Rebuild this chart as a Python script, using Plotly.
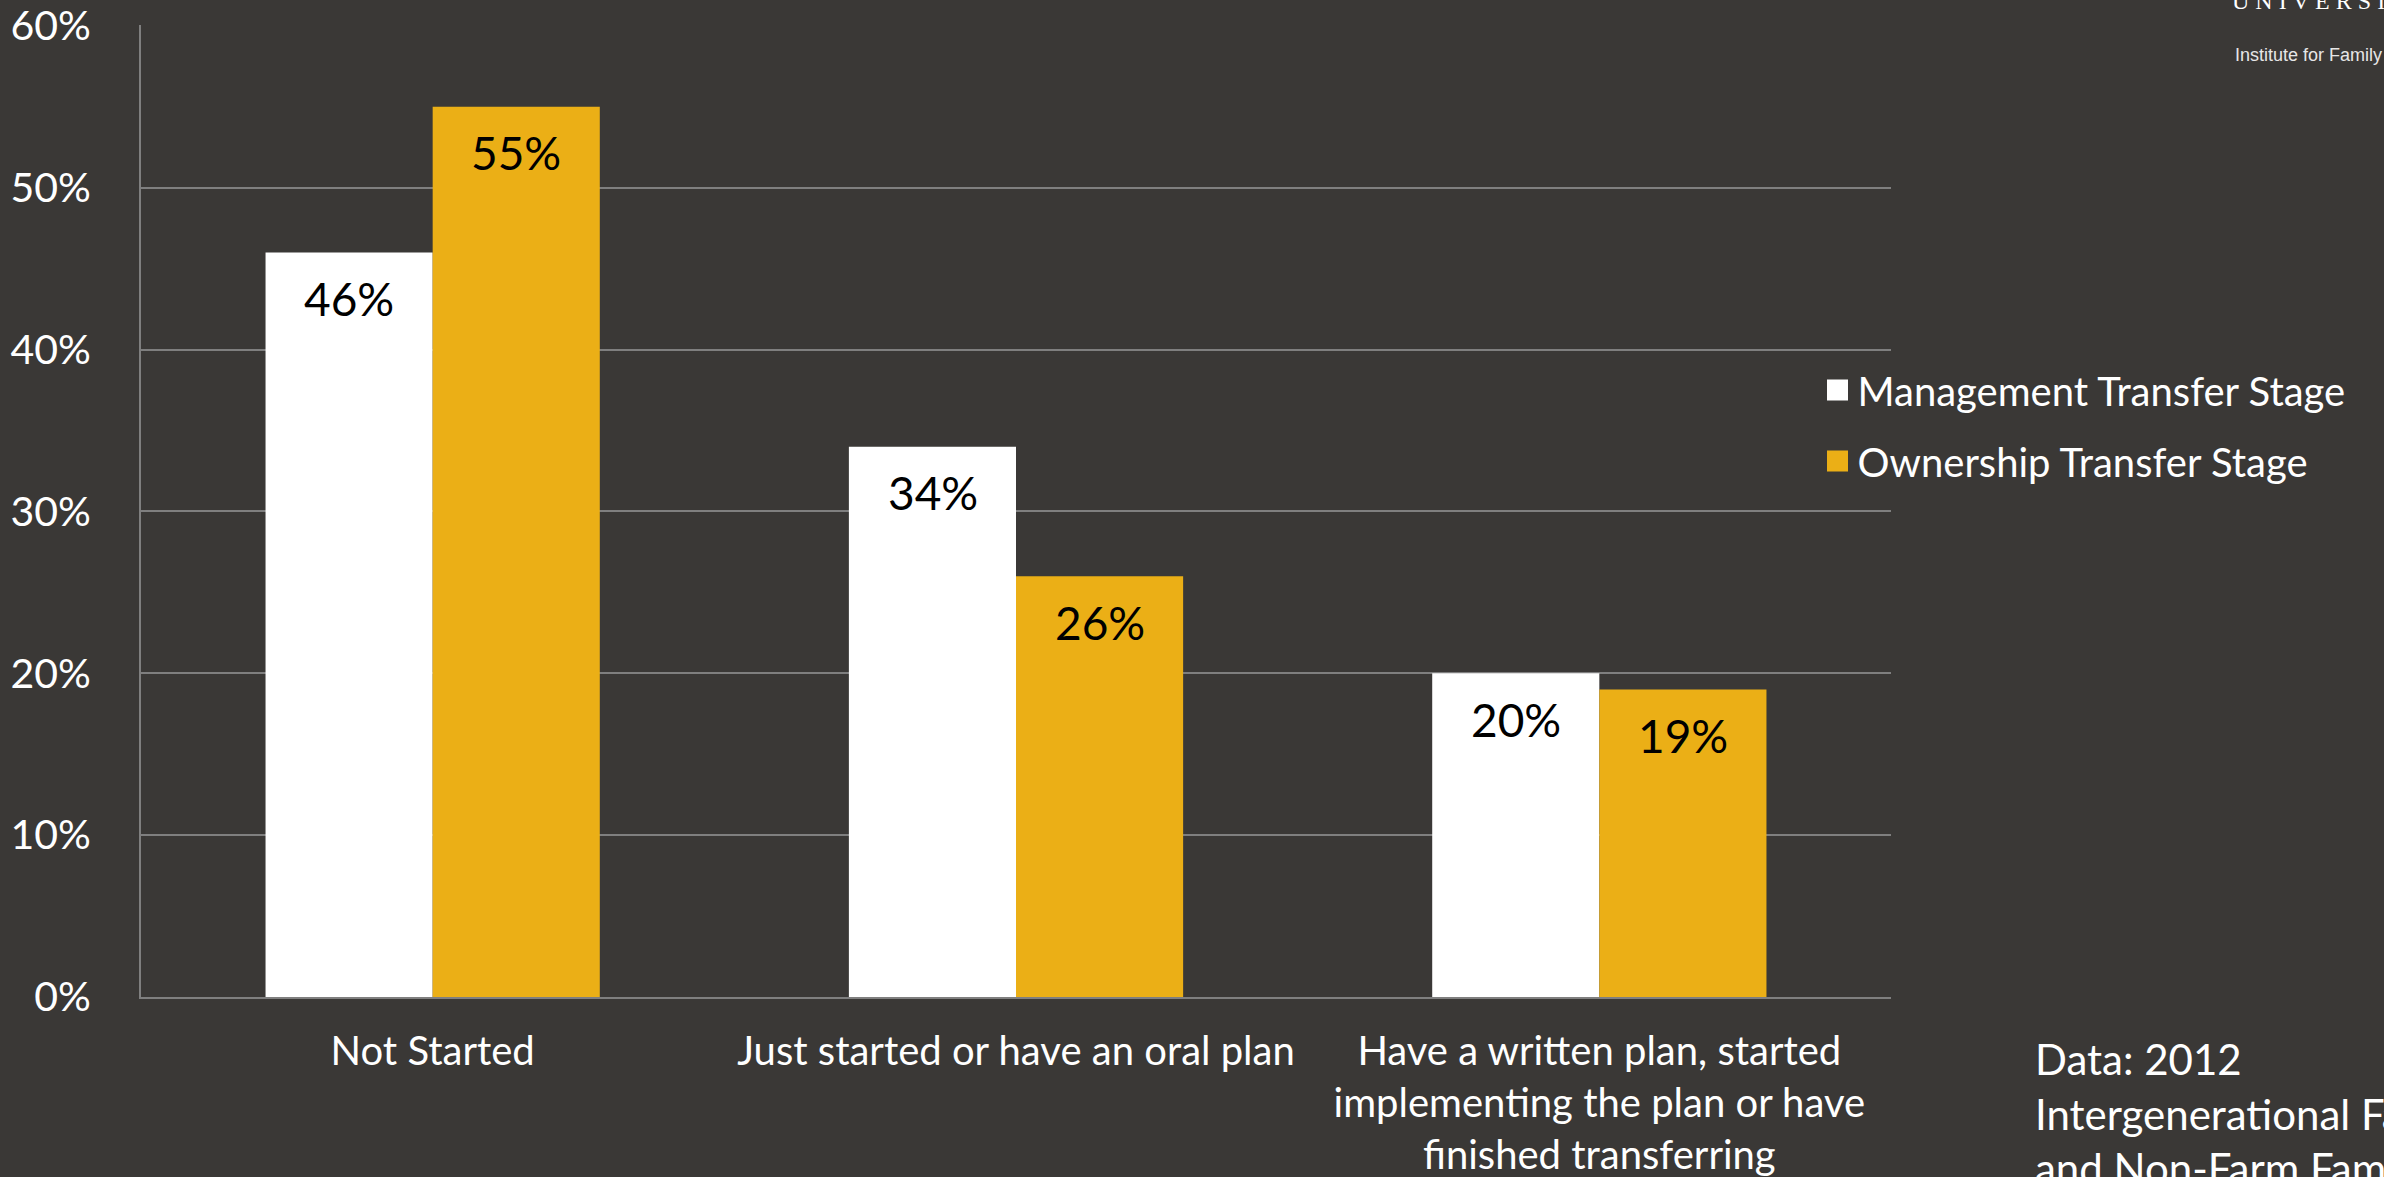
import plotly.graph_objects as go

categories = [
    "Not Started",
    "Just started or have an oral plan",
    "Have a written plan, started<br>implementing the plan or have<br>finished transferring",
]
management = [0.46, 0.34, 0.20]
ownership = [0.55, 0.26, 0.19]
series_names = ["Management Transfer Stage", "Ownership Transfer Stage"]
y_ticks = [0, 0.1, 0.2, 0.3, 0.4, 0.5, 0.6]

BG = "#3A3836"
FONT = "Lato, 'Open Sans', sans-serif"
WHITE = "#FFFFFF"
GOLD = "#EBAF16"
GRID = "#7F7F7F"
colors = [WHITE, GOLD]
series = [management, ownership]

BAR_PX = 167  # approx pixel width of one bar (for label centring)

fig = go.Figure()
for name, vals, col in zip(series_names, series, colors):
    fig.add_trace(go.Bar(
        x=categories, y=vals, name=name,
        marker=dict(color=col, line=dict(width=0)),
        showlegend=False, hovertemplate="%{y:.0%}<extra>" + name + "</extra>",
    ))
# legend entries (square swatches)
for i, (name, col) in enumerate(zip(series_names, colors)):
    fig.add_trace(go.Scatter(
        x=[None], y=[None], mode="markers", name=name,
        marker=dict(symbol="square", size=23, color=col, line=dict(width=5, color=col)),
        legendgroup=f"g{i}", showlegend=True, hoverinfo="skip",
    ))

# value labels just inside the top of each bar
for i, vals in enumerate(series):
    for cat, v in zip(categories, vals):
        fig.add_annotation(
            x=cat, y=v, xref="x", yref="y",
            xshift=(i - 0.5) * BAR_PX, yshift=-46,
            xanchor="center", yanchor="middle",
            text=f"{v:.0%}", showarrow=False,
            font=dict(family=FONT, size=46, color="black"),
        )

fig.update_layout(
    width=2384, height=1177,
    margin=dict(l=141, r=493, t=25, b=180, pad=0, autoexpand=False),
    paper_bgcolor=BG, plot_bgcolor=BG,
    barmode="group", bargap=0.427, bargroupgap=0,
    font=dict(family=FONT, color="white"),
    showlegend=True,
    legend=dict(
        x=0.958, y=0.658, xanchor="left", yanchor="top",
        bgcolor="rgba(0,0,0,0)", borderwidth=0,
        font=dict(family=FONT, size=40, color="white"),
        traceorder="grouped", tracegroupgap=16,
        itemwidth=30,
    ),
)
fig.update_yaxes(
    range=[0, 0.6005], tickvals=y_ticks, tickformat=".0%",
    showgrid=True, gridcolor=GRID, gridwidth=2,
    showline=True, linecolor=GRID, linewidth=2,
    zeroline=False, ticks="", automargin=False,
    tickfont=dict(family=FONT, size=41, color="white"),
    ticklabelstandoff=40,
)
fig.update_xaxes(
    showline=True, linecolor=GRID, linewidth=2,
    showgrid=False, ticks="", automargin=False,
    tickfont=dict(family=FONT, size=40, color="white"),
    ticklabelstandoff=18,
)

fig.add_annotation(
    xref="paper", yref="paper", x=1.0811, y=-0.036,
    xanchor="left", yanchor="top", align="left",
    text="Data: 2012<br>Intergenerational Farm<br>and Non-Farm Family Business Survey",
    showarrow=False,
    font=dict(family=FONT, size=42, color="white"),
)
fig.add_annotation(
    xref="paper", yref="paper", x=1.1937, y=1.0093,
    xanchor="left", yanchor="bottom", align="left",
    text="U N I V E R S I T Y", showarrow=False,
    font=dict(family="'Liberation Serif', 'DejaVu Serif', serif", size=24, color="white"),
)
fig.add_annotation(
    xref="paper", yref="paper", x=1.1954, y=0.969,
    xanchor="left", yanchor="middle", align="left",
    text="Institute for Family Business", showarrow=False,
    font=dict(family="'Liberation Sans Narrow', 'Liberation Sans', sans-serif", size=18, color="#E6E6E6"),
)

fig.write_html("out.html")
